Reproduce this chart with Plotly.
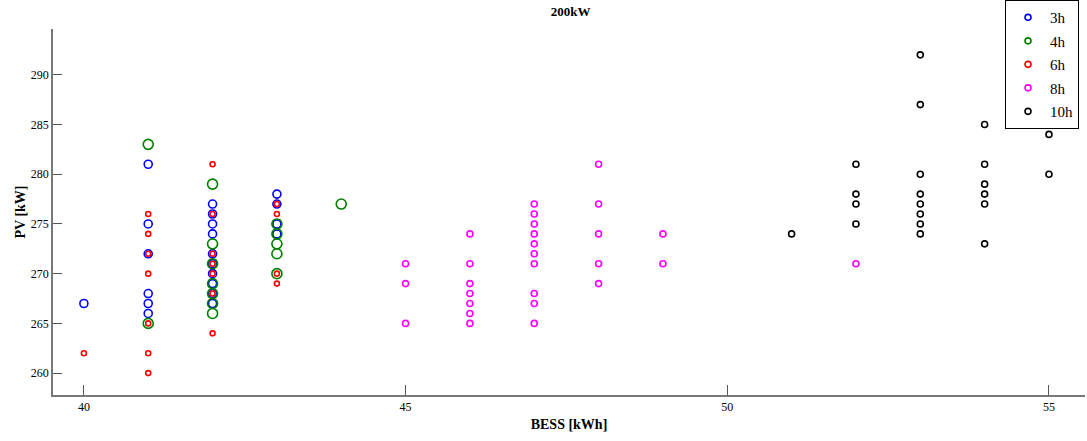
import plotly.graph_objects as go

# 3h series
bess_3h = [40, 41, 41, 41, 41, 41, 41, 42, 42, 42, 42, 42, 42, 42, 42, 42, 42, 43, 43, 43, 43]
pv_3h = [267, 281, 275, 272, 268, 267, 266, 277, 276, 275, 274, 272, 271, 270, 269, 268, 267, 278, 277, 275, 274]

# 4h series
bess_4h = [41, 41, 42, 42, 42, 42, 42, 42, 42, 43, 43, 43, 43, 43, 44]
pv_4h = [283, 265, 279, 273, 271, 269, 268, 267, 266, 275, 274, 273, 272, 270, 277]

# 6h series
bess_6h = [40, 41, 41, 41, 41, 41, 41, 41, 42, 42, 42, 42, 42, 42, 42, 43, 43, 43, 43]
pv_6h = [262, 276, 274, 272, 270, 265, 262, 260, 281, 276, 272, 271, 270, 268, 264, 277, 276, 270, 269]

# 8h series
bess_8h = [45, 45, 45, 46, 46, 46, 46, 46, 46, 46,
           47, 47, 47, 47, 47, 47, 47, 47, 47, 47,
           48, 48, 48, 48, 48, 49, 49, 52]
pv_8h = [271, 269, 265, 274, 271, 269, 268, 267, 266, 265,
         277, 276, 275, 274, 273, 272, 271, 268, 267, 265,
         281, 277, 274, 271, 269, 274, 271, 271]

# 10h series
bess_10h = [51, 52, 52, 52, 52, 53, 53, 53, 53, 53, 53, 53, 53,
            54, 54, 54, 54, 54, 54, 55, 55]
pv_10h = [274, 281, 278, 277, 275, 292, 287, 280, 278, 277, 276, 275, 274,
          285, 281, 279, 278, 277, 273, 284, 280]

series = [
    ("3h", bess_3h, pv_3h, "#0000ff", 8),
    ("4h", bess_4h, pv_4h, "#007f00", 10),
    ("6h", bess_6h, pv_6h, "#ff0000", 5),
    ("8h", bess_8h, pv_8h, "#ff00ff", 6),
    ("10h", bess_10h, pv_10h, "#000000", 6),
]

fig = go.Figure()
for name, xs, ys, col, sz in series:
    fig.add_trace(go.Scatter(
        x=xs, y=ys, mode="markers", name=name, legendgroup=name, showlegend=False,
        marker=dict(symbol="circle-open", size=sz, color=col,
                    line=dict(width=1.6, color=col)),
    ))
# legend entries with uniform small markers
for name, xs, ys, col, sz in series:
    fig.add_trace(go.Scatter(
        x=[None], y=[None], mode="markers", name=name, legendgroup=name,
        marker=dict(symbol="circle-open", size=6, color=col,
                    line=dict(width=1.6, color=col)),
    ))

font_family = "Liberation Serif, Times New Roman, serif"
fig.update_layout(
    width=1087, height=441,
    margin=dict(l=53, r=2, t=29, b=46, autoexpand=False),
    paper_bgcolor="white", plot_bgcolor="white",
    font=dict(family=font_family, size=12, color="black"),
    title=dict(text="<b>200kW</b>", x=0.525, xanchor="center", y=0.985, yanchor="top",
               font=dict(family=font_family, size=13, color="black")),
    legend=dict(x=0.9225, y=1.079, xanchor="left", yanchor="top",
                bgcolor="white", bordercolor="black", borderwidth=1,
                itemsizing="trace", font=dict(family=font_family, size=15),
                tracegroupgap=1, itemwidth=34),
    showlegend=True,
)
fig.update_xaxes(
    range=[39.52, 55.56], tickvals=[40, 45, 50, 55], ticks="inside", ticklen=10,
    tickcolor="#555", showgrid=False, zeroline=False, showline=True,
    linecolor="#777", linewidth=1.5, automargin=False,
    title=dict(text="<b>BESS [kWh]</b>", font=dict(family=font_family, size=14), standoff=6),
    tickfont=dict(family=font_family, size=12),
)
fig.update_yaxes(
    range=[257.8, 294.6], tickvals=[260, 265, 270, 275, 280, 285, 290], ticks="inside", ticklen=9,
    tickcolor="#555", showgrid=False, zeroline=False, showline=True,
    linecolor="#777", linewidth=1.5, automargin=False,
    title=dict(text="<b>PV [kW]</b>", font=dict(family=font_family, size=14), standoff=2),
    tickfont=dict(family=font_family, size=12),
)

fig.write_html("out.html", config={"displayModeBar": False},
               post_script="document.body.style.margin='0px';")
